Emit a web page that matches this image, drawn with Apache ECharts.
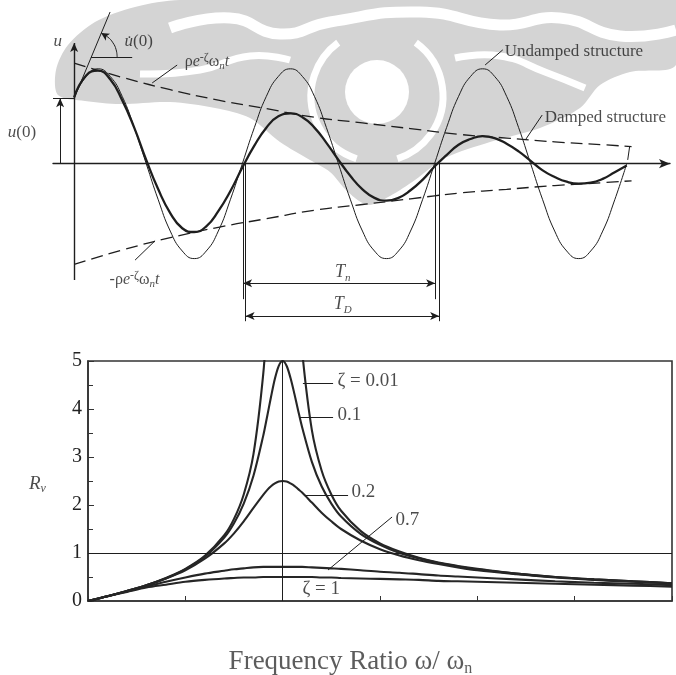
<!DOCTYPE html>
<html lang="en">
<head>
<meta charset="UTF-8">
<title>Free vibration and velocity response factor</title>
<script src="https://cdn.jsdelivr.net/npm/echarts@6/dist/echarts.min.js"></script>
<style>
    html, body { margin: 0; padding: 0; background: #fff; }
    #chart { width: 676px; height: 675px; }
</style>
</head>
<body>
<div id="chart"></div>
<script>
    // top diagram: t in natural periods, u relative to undamped amplitude
    var tTop = [0, 0.0625, 0.125, 0.1875, 0.25, 0.3125, 0.375, 0.4375, 0.5, 0.5625, 0.625, 0.6875,
        0.75, 0.8125, 0.875, 0.9375, 1, 1.0625, 1.125, 1.1875, 1.25, 1.3125, 1.375, 1.4375,
        1.5, 1.5625, 1.625, 1.6875, 1.75, 1.8125, 1.875, 1.9375, 2, 2.0625, 2.125, 2.1875,
        2.25, 2.3125, 2.375, 2.4375, 2.5, 2.5625, 2.625, 2.6875, 2.75, 2.8125, 2.875];
    var undamped = [0.70, 0.92, 1, 0.92, 0.71, 0.38, 0, -0.38, -0.71, -0.92, -1, -0.92, -0.71, -0.38, 0, 0.38,
        0.71, 0.92, 1, 0.92, 0.71, 0.38, 0, -0.38, -0.71, -0.92, -1, -0.92, -0.71, -0.38, 0, 0.38,
        0.71, 0.92, 1, 0.92, 0.71, 0.38, 0, -0.38, -0.71, -0.92, -1, -0.92, -0.71, -0.38, 0];
    var damped = [0.70, 0.93, 0.98, 0.89, 0.67, 0.38, 0.04, -0.27, -0.52, -0.68,
        -0.72, -0.66, -0.50, -0.29, -0.04, 0.19, 0.38, 0.50, 0.53, 0.49,
        0.38, 0.22, 0.04, -0.13, -0.27, -0.36, -0.39, -0.36, -0.28, -0.17,
        -0.03, 0.09, 0.20, 0.26, 0.29, 0.27, 0.21, 0.13, 0.03, -0.07,
        -0.14, -0.19, -0.21, -0.20, -0.16, -0.09, -0.02];
    var tEnv = [0, 0.25, 0.5, 0.75, 1, 1.25, 1.5, 1.75, 2, 2.25, 2.5, 2.75, 2.9];
    var envUpper = [1.06, 0.91, 0.78, 0.67, 0.58, 0.49, 0.43, 0.37, 0.31, 0.27, 0.23, 0.20, 0.18];
    var envLower = [-1.06, -0.91, -0.78, -0.67, -0.58, -0.49, -0.43, -0.37, -0.31, -0.27, -0.23, -0.20, -0.18];
    var arcT = [0.1405, 0.1753, 0.2019, 0.2185, 0.2237];
    var arcU = [1.3775, 1.3343, 1.2742, 1.2005, 1.1246];

    // bottom chart: velocity response factor for each damping ratio
    var ratio = [0, 0.1, 0.2, 0.3, 0.4, 0.5, 0.6, 0.7, 0.75, 0.8, 0.85, 0.9, 0.92, 0.94, 0.96, 0.98, 1,
        1.02, 1.04, 1.06, 1.08, 1.1, 1.15, 1.2, 1.25, 1.3, 1.4, 1.5, 1.6, 1.7, 1.8, 1.9, 2, 2.2, 2.4, 2.6, 2.8, 3];
    var rv001 = [0, 0.10, 0.21, 0.33, 0.48, 0.67, 0.94, 1.37, 1.71, 2.22, 3.06, 4.72, 5.95, 7.97, 11.9, 22.2, 50,
        22.5, 12.4, 8.45, 6.44, 5.21, 3.56, 2.72, 2.22, 1.88, 1.46, 1.20, 1.03, 0.90, 0.80, 0.73, 0.67, 0.57, 0.50, 0.45, 0.41, 0.37];
    var rv01 = [0, 0.10, 0.21, 0.33, 0.47, 0.66, 0.92, 1.32, 1.62, 2.03, 2.61, 3.44, 3.84, 4.25, 4.63, 4.90, 5.00,
        4.90, 4.65, 4.32, 3.96, 3.62, 2.90, 2.39, 2.03, 1.76, 1.40, 1.17, 1.00, 0.89, 0.79, 0.72, 0.66, 0.57, 0.50, 0.45, 0.41, 0.37];
    var rv02 = [0, 0.10, 0.21, 0.33, 0.47, 0.64, 0.88, 1.20, 1.41, 1.66, 1.94, 2.21, 2.31, 2.39, 2.45, 2.49, 2.50,
        2.49, 2.45, 2.40, 2.33, 2.26, 2.05, 1.84, 1.66, 1.50, 1.26, 1.08, 0.95, 0.85, 0.77, 0.70, 0.64, 0.56, 0.49, 0.44, 0.40, 0.37];
    var rv07 = [0, 0.10, 0.20, 0.30, 0.40, 0.49, 0.57, 0.63, 0.66, 0.68, 0.70, 0.71, 0.71, 0.71, 0.71, 0.71, 0.71,
        0.71, 0.71, 0.71, 0.71, 0.71, 0.70, 0.69, 0.68, 0.67, 0.64, 0.61, 0.59, 0.56, 0.53, 0.51, 0.49, 0.45, 0.41, 0.38, 0.36, 0.33];
    var rv1 = [0, 0.10, 0.19, 0.28, 0.34, 0.40, 0.44, 0.47, 0.48, 0.49, 0.49, 0.50, 0.50, 0.50, 0.50, 0.50, 0.50,
        0.50, 0.50, 0.50, 0.50, 0.50, 0.50, 0.49, 0.49, 0.48, 0.47, 0.46, 0.45, 0.44, 0.42, 0.41, 0.40, 0.38, 0.36, 0.34, 0.32, 0.30];

    var serif = '"Liberation Serif", "DejaVu Serif", serif';
    var ink = '#1e1e1e';

    function pairs(xs, ys) {
        return xs.map(function (x, i) { return [x, ys[i]]; });
    }

    // a straight annotation segment for markLine
    function seg(a, b, startSym, endSym, width) {
        return [
            { coord: a, symbol: startSym || 'none', symbolSize: [6, 9], lineStyle: { width: width || 1, color: ink, type: 'solid' } },
            { coord: b, symbol: endSym || 'none', symbolSize: [6, 9] }
        ];
    }

    // annotation lines of the top diagram (data units)
    var topLines = [
        seg([0, -1.226], [0, 1.272], 'none', 'arrow', 1.4),          // u axis
        seg([-0.11, 0.69], [0, 0.69]),                               // u(0) level
        seg([-0.073, 0], [-0.073, 0.69], 'none', 'arrow'),           // u(0) arrow
        seg([0, 0.69], [0.187, 1.599]),                              // initial slope
        seg([0.088, 1.125], [0.302, 1.125]),
        seg([0.406, 0.851], [0.536, 1.04]),                          // leaders
        seg([2.138, 1.04], [2.23, 1.2]),
        seg([2.347, 0.249], [2.435, 0.513]),
        seg([0.317, -1.016], [0.421, -0.812]),
        seg([2.89, 0.18], [2.88, 0.04]),
        seg([0.879, 0], [0.879, -1.428]),                            // Tn
        seg([1.878, 0], [1.878, -1.428]),
        seg([0.879, -1.26], [1.878, -1.26], 'arrow', 'arrow'),
        seg([0.892, 0], [0.892, -1.66]),                             // TD
        seg([1.899, 0], [1.899, -1.66]),
        seg([0.892, -1.606], [1.899, -1.606], 'arrow', 'arrow')
    ];

    var bottomLines = [
        { yAxis: 1, lineStyle: { width: 1, color: ink, type: 'solid' } },
        { xAxis: 1, lineStyle: { width: 1, color: ink, type: 'solid' } },
        seg([1.104, 4.542], [1.259, 4.542]),
        seg([1.089, 3.833], [1.259, 3.833]),
        seg([1.115, 2.208], [1.336, 2.208]),
        seg([1.233, 0.646], [1.562, 1.75])
    ];

    var richTop = {
        a: { fontFamily: serif, fontSize: 17, color: ink, lineHeight: 20 },
        i: { fontFamily: serif, fontSize: 17, fontStyle: 'italic', color: ink, lineHeight: 20 },
        g: { fontFamily: serif, fontSize: 16, color: ink, lineHeight: 20 },
        gi: { fontFamily: serif, fontSize: 16, fontStyle: 'italic', color: ink, lineHeight: 20 },
        T: { fontFamily: serif, fontSize: 18, fontStyle: 'italic', color: ink, lineHeight: 22 },
        sup: { fontFamily: serif, fontSize: 12, color: ink, verticalAlign: 'top', lineHeight: 12 },
        sub: { fontFamily: serif, fontSize: 11, fontStyle: 'italic', color: ink, verticalAlign: 'bottom', lineHeight: 12 }
    };
    var richBottom = {
        b: { fontFamily: serif, fontSize: 19, color: ink },
        R: { fontFamily: serif, fontSize: 19, fontStyle: 'italic', color: ink, lineHeight: 22 },
        rs: { fontFamily: serif, fontSize: 12, fontStyle: 'italic', color: ink, verticalAlign: 'bottom', lineHeight: 12 },
        x: { fontFamily: serif, fontSize: 27, color: '#333', lineHeight: 30 },
        xs: { fontFamily: serif, fontSize: 16, color: '#333', verticalAlign: 'bottom', lineHeight: 14 }
    };

    var topText = [
        { pos: [-0.083, 1.283], text: '{i|u}', align: 'center' },
        { pos: [0.265, 1.283], text: '{i|u\u0307}{a|(0)}' },
        { pos: [0.578, 1.072], text: '{g|ρ}{gi|e}{sup|-ζ}{g|ω}{sub|n}{gi|t}' },
        { pos: [2.243, 1.175], text: '{a|Undamped structure}' },
        { pos: [2.451, 0.481], text: '{a|Damped structure}' },
        { pos: [-0.343, 0.323], text: '{i|u}{a|(0)}' },
        { pos: [0.187, -1.226], text: '{g|-ρ}{gi|e}{sup|-ζ}{g|ω}{sub|n}{gi|t}' },
        { pos: [1.40, -1.152], text: '{T|T}{sub|n}', align: 'center' },
        { pos: [1.40, -1.49], text: '{T|T}{sub|D}', align: 'center' }
    ];
    var bottomText = [
        { pos: [1.284, 4.583], text: '{b|ζ = 0.01}' },
        { pos: [1.284, 3.854], text: '{b|0.1}' },
        { pos: [1.356, 2.25], text: '{b|0.2}' },
        { pos: [1.582, 1.667], text: '{b|0.7}' },
        { pos: [1.104, 0.229], text: '{b|ζ = 1}' },
        { pos: [-0.257, 2.42], text: '{R|R}{rs|v}', align: 'center' },
        { pos: [1.351, -1.27], text: '{x|Frequency Ratio ω/ ω}{xs|n}', align: 'center' }
    ];

    function textItems(list) {
        return list.map(function (d) {
            return { value: d.pos, label: { formatter: d.text, align: d.align || 'left' } };
        });
    }

    function textSeries(list, idx, rich) {
        return {
            type: 'scatter', xAxisIndex: idx, yAxisIndex: idx, clip: false, silent: true,
            symbolSize: 1, itemStyle: { color: 'rgba(0,0,0,0)' }, z: 5,
            label: { show: true, position: [0, 0], verticalAlign: 'middle', rich: rich },
            data: textItems(list)
        };
    }

    function rvSeries(values, width) {
        return {
            type: 'line', xAxisIndex: 1, yAxisIndex: 1, data: pairs(ratio, values),
            symbol: 'none', smooth: 0.3, lineStyle: { color: '#262626', width: width || 2.1 }
        };
    }

    var arcData = pairs(arcT, arcU).map(function (p, i) {
        return i === 0 ? { value: p, symbol: 'arrow', symbolSize: [6, 8], symbolRotate: 58 } : { value: p, symbol: 'none' };
    });

    // faint emblem behind the top diagram
    var wmGray = '#d4d4d4';
    var watermark = [
        {
            type: 'polygon', z: -10, silent: true,
            shape: {
                smooth: 0.3,
                points: [[58, 95], [56, 70], [68, 45], [95, 22], [135, 7], [180, 0], [676, 0], [676, 65], [630, 72],
                    [600, 85], [580, 108], [540, 128], [490, 142], [445, 158], [415, 180], [390, 196], [368, 205],
                    [348, 192], [330, 172], [310, 160], [280, 142], [250, 118], [215, 108], [170, 102], [120, 104], [85, 101]]
            },
            style: { fill: wmGray }
        },
        { type: 'circle', z: -9, silent: true, shape: { cx: 377, cy: 92, r: 32 }, style: { fill: '#fff' } },
        {
            type: 'arc', z: -9, silent: true,
            shape: { cx: 377, cy: 96, r: 66, startAngle: Math.PI * 0.6, endAngle: Math.PI * 1.3 },
            style: { fill: null, stroke: '#fff', lineWidth: 7 }
        },
        {
            type: 'arc', z: -9, silent: true,
            shape: { cx: 377, cy: 96, r: 66, startAngle: -Math.PI * 0.3, endAngle: Math.PI * 0.4 },
            style: { fill: null, stroke: '#fff', lineWidth: 7 }
        },
        {
            type: 'polyline', z: -9, silent: true,
            shape: { smooth: 0.5, points: [[170, 28], [230, 18], [280, 34], [330, 22], [420, 12], [500, 25], [560, 18], [620, 36], [676, 30]] },
            style: { fill: null, stroke: '#fff', lineWidth: 11 }
        },
        {
            type: 'polyline', z: -9, silent: true,
            shape: { smooth: 0.5, points: [[455, 58], [500, 56], [545, 72], [585, 88]] },
            style: { fill: null, stroke: '#fff', lineWidth: 7 }
        },
        {
            type: 'polyline', z: -9, silent: true,
            shape: { smooth: 0.5, points: [[290, 60], [250, 56], [200, 70], [140, 74]] },
            style: { fill: null, stroke: '#fff', lineWidth: 7 }
        }
    ];

    var chart = echarts.init(document.getElementById('chart'));
    chart.setOption({
        animation: false,
        backgroundColor: '#fff',
        textStyle: { fontFamily: serif },
        graphic: watermark,
        grid: [
            { left: 53, right: 6, top: 10, bottom: 350 },
            { left: 88, right: 4, top: 361, bottom: 74, show: true, borderColor: '#333', borderWidth: 1.6 }
        ],
        xAxis: [
            {
                type: 'value', gridIndex: 0, min: -0.11, max: 3.1,
                axisLine: { show: true, symbol: ['none', 'arrow'], symbolSize: [7, 11], lineStyle: { color: ink, width: 1.4 } },
                axisTick: { show: false }, axisLabel: { show: false }, splitLine: { show: false }
            },
            {
                type: 'value', gridIndex: 1, min: 0, max: 3, interval: 0.5,
                axisLine: { lineStyle: { color: '#333', width: 1.6 } },
                axisTick: { inside: true, length: 5, lineStyle: { color: '#333' } },
                axisLabel: { show: false }, splitLine: { show: false }
            }
        ],
        yAxis: [
            { type: 'value', gridIndex: 0, min: -1.7, max: 1.62, show: false },
            {
                type: 'value', gridIndex: 1, min: 0, max: 5, interval: 1,
                axisLine: { show: true, lineStyle: { color: '#333', width: 1.6 } },
                axisTick: { show: true, inside: true, length: 6, lineStyle: { color: '#333' } },
                minorTick: { show: true, splitNumber: 2, length: 5, lineStyle: { color: '#333' } },
                axisLabel: { fontFamily: serif, fontSize: 20, color: '#222', margin: 6 },
                splitLine: { show: false }
            }
        ],
        series: [
            {
                type: 'line', xAxisIndex: 0, yAxisIndex: 0, data: pairs(tTop, undamped),
                symbol: 'none', smooth: true, lineStyle: { color: ink, width: 1 },
                markLine: { silent: true, symbol: 'none', label: { show: false }, data: topLines }
            },
            {
                type: 'line', xAxisIndex: 0, yAxisIndex: 0, data: pairs(tTop, damped),
                symbol: 'none', smooth: true, lineStyle: { color: ink, width: 2.3 }, z: 3
            },
            {
                type: 'line', xAxisIndex: 0, yAxisIndex: 0, data: pairs(tEnv, envUpper),
                symbol: 'none', smooth: true, lineStyle: { color: ink, width: 1.3, type: [12, 6] }
            },
            {
                type: 'line', xAxisIndex: 0, yAxisIndex: 0, data: pairs(tEnv, envLower),
                symbol: 'none', smooth: true, lineStyle: { color: ink, width: 1.3, type: [12, 6] }
            },
            {
                type: 'line', xAxisIndex: 0, yAxisIndex: 0, data: arcData, showSymbol: true,
                symbol: 'none', smooth: true, itemStyle: { color: ink }, lineStyle: { color: ink, width: 1 }
            },
            textSeries(topText, 0, richTop),
            Object.assign(rvSeries(rv001), {
                markLine: { silent: true, symbol: 'none', label: { show: false }, data: bottomLines }
            }),
            rvSeries(rv01),
            rvSeries(rv02),
            rvSeries(rv07),
            rvSeries(rv1),
            textSeries(bottomText, 1, richBottom)
        ]
    });
</script>
</body>
</html>
